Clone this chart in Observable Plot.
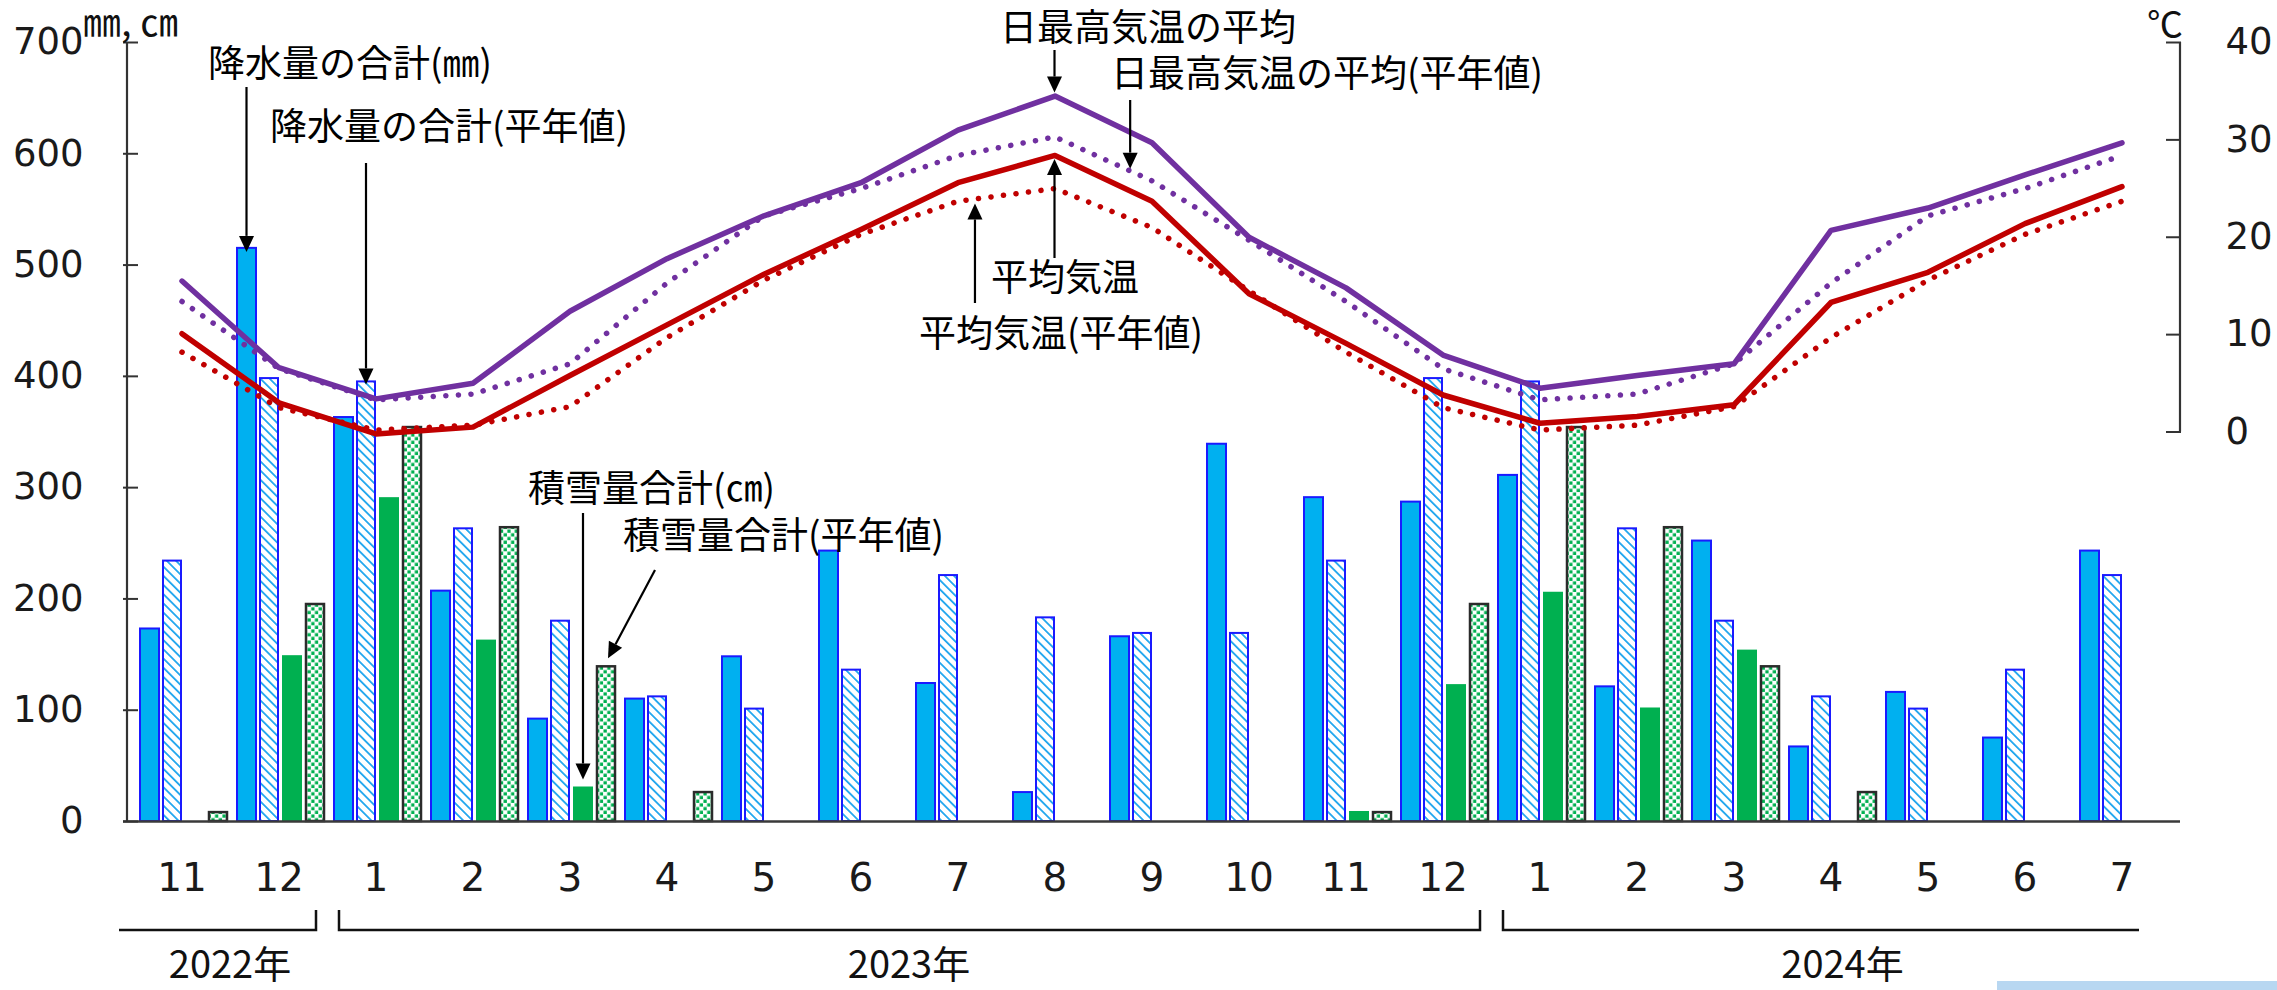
<!DOCTYPE html>
<html><head><meta charset="utf-8">
<script src="https://cdn.jsdelivr.net/npm/d3@7"></script>
<script src="https://cdn.jsdelivr.net/npm/@observablehq/plot@0.6"></script>
<style>
html,body{margin:0;padding:0;background:#fff;}
#wrap{position:relative;width:2277px;height:990px;overflow:hidden;background:#fff;}
#strip{position:absolute;left:1997px;top:981px;width:280px;height:9px;background:#b8d7f1;}
</style></head><body>
<svg width="0" height="0" style="position:absolute">
<defs>
<pattern id="hatch" patternUnits="userSpaceOnUse" width="6.5" height="6.5" patternTransform="rotate(-45)">
<rect width="6.5" height="6.5" fill="#fff"/>
<line x1="0" y1="0" x2="0" y2="6.5" stroke="#1fa6ee" stroke-width="3.6"/>
</pattern>
<pattern id="dots" patternUnits="userSpaceOnUse" width="7.4" height="7.4">
<rect width="7.4" height="7.4" fill="#fff"/>
<rect x="0.4" y="0.4" width="3.3" height="3.3" fill="#00b050"/>
<rect x="4.1" y="4.1" width="3.3" height="3.3" fill="#00b050"/>
</pattern>
</defs></svg>
<div id="wrap"><div id="strip"></div></div>
<script>
// ---- data ----
const months = ["2022-11","2022-12","2023-01","2023-02","2023-03","2023-04","2023-05","2023-06","2023-07","2023-08","2023-09","2023-10","2023-11","2023-12","2024-01","2024-02","2024-03","2024-04","2024-05","2024-06","2024-07"];
const monthLabels = ["11","12","1","2","3","4","5","6","7","8","9","10","11","12","1","2","3","4","5","6","7"];
const precip =       [173, 515, 363, 207, 92, 110, 148, 243, 124, 26, 166, 339, 291, 287, 311, 121, 252, 67, 116, 75, 243];
const precipNormal = [234, 398, 395, 263, 180, 112, 101, 136, 221, 183, 169, 169, 234, 398, 395, 263, 180, 112, 101, 136, 221];
const snow =         [null, 149, 291, 163, 31, null, null, null, null, null, null, null, 9, 123, 206, 102, 154, null, null, null, null];
const snowNormal =   [8, 195, 354, 264, 139, 26, null, null, null, null, null, null, 8, 195, 354, 264, 139, 26, null, null, null];
const tmax =         [15.5, 6.6, 3.4, 5.0, 12.4, 17.8, 22.2, 25.6, 31.0, 34.5, 29.7, 20.0, 14.8, 7.9, 4.5, 5.8, 7.0, 20.7, 23.0, 26.4, 29.7];
const tmaxNormal =   [13.4, 6.5, 3.3, 3.9, 7.0, 15.3, 22.2, 25.0, 28.4, 30.3, 25.8, 19.7, 13.4, 6.5, 3.3, 3.9, 7.0, 15.3, 22.2, 25.0, 28.4];
const tmean =        [10.1, 3.0, -0.2, 0.5, 5.8, 11.0, 16.2, 20.8, 25.6, 28.4, 23.7, 14.2, 9.1, 3.8, 0.9, 1.6, 2.8, 13.3, 16.4, 21.4, 25.2];
const tmeanNormal =  [8.2, 2.5, 0.2, 0.7, 2.6, 9.7, 15.6, 20.3, 23.7, 25.0, 21.0, 14.5, 8.2, 2.5, 0.2, 0.7, 2.6, 9.7, 15.6, 20.3, 23.7];
const leftTicks = [0, 100, 200, 300, 400, 500, 600, 700];
const tempTicks = [0, 10, 20, 30, 40];
const years = [
  {label: "2022年", first: "2022-11", last: "2022-12"},
  {label: "2023年", first: "2023-01", last: "2023-12"},
  {label: "2024年", first: "2024-01", last: "2024-07"}
];

// temperature axis (right) shares the left y scale: 0..40 ℃ -> 350..700
const toV = t => 350 + 8.75 * t;

const rows = months.map((m, i) => ({
  m, label: monthLabels[i],
  precip: precip[i], precipNormal: precipNormal[i],
  snow: snow[i], snowNormal: snowNormal[i],
  tmax: toV(tmax[i]), tmaxNormal: toV(tmaxNormal[i]),
  tmean: toV(tmean[i]), tmeanNormal: toV(tmeanNormal[i])
}));
const labelOf = new Map(months.map((m, i) => [m, monthLabels[i]]));

// bar slots inside each month band (px from band start / end)
const slot = {
  precip: [7, 71], precipNormal: [30, 49], snow: [52, 25], snowNormal: [76, 3]
};

const numFont = "'DejaVu Sans', sans-serif";
const jpFont = "'Noto Sans CJK JP', 'Noto Sans', sans-serif";

const chart = Plot.plot({
  width: 2277, height: 990,
  marginLeft: 123, marginRight: 97, marginTop: 42, marginBottom: 169,
  x: {type: "band", domain: months, padding: 0, axis: null, label: null},
  y: {domain: [0, 700], axis: null, label: null},
  style: {background: "#fff", overflow: "visible"},
  marks: [
    Plot.barY(rows.filter(d => d.precip != null), {x: "m", y: "precip", insetLeft: slot.precip[0], insetRight: slot.precip[1], fill: "#00b0f0", stroke: "#1a1aff", strokeWidth: 2}),
    Plot.barY(rows.filter(d => d.precipNormal != null), {x: "m", y: "precipNormal", insetLeft: slot.precipNormal[0], insetRight: slot.precipNormal[1], fill: "url(#hatch)", stroke: "#1a1aff", strokeWidth: 2}),
    Plot.barY(rows.filter(d => d.snow != null), {x: "m", y: "snow", insetLeft: slot.snow[0], insetRight: slot.snow[1], fill: "#00b050"}),
    Plot.barY(rows.filter(d => d.snowNormal != null), {x: "m", y: "snowNormal", insetLeft: slot.snowNormal[0], insetRight: slot.snowNormal[1], fill: "url(#dots)", stroke: "#2b2b2b", strokeWidth: 2.5}),
    Plot.ruleY([0], {stroke: "#3a3a3a", strokeWidth: 2.5}),
    Plot.line(rows, {x: "m", y: "tmaxNormal", stroke: "#7030a0", strokeWidth: 5.5, strokeDasharray: "0.1 12.5", strokeLinecap: "round"}),
    Plot.line(rows, {x: "m", y: "tmeanNormal", stroke: "#c00000", strokeWidth: 5.5, strokeDasharray: "0.1 12.5", strokeLinecap: "round"}),
    Plot.line(rows, {x: "m", y: "tmax", stroke: "#7030a0", strokeWidth: 5.5}),
    Plot.line(rows, {x: "m", y: "tmean", stroke: "#c00000", strokeWidth: 5.5}),
    Plot.axisX({tickSize: 0, tickPadding: 42, tickFormat: m => labelOf.get(m), label: null, fontSize: 39, fontFamily: numFont, fill: "#1a1a1a"}),
    Plot.axisY({anchor: "left", ticks: leftTicks, tickSize: -15, tickPadding: 55, label: null, tickFormat: d => String(d), fontSize: 37, fontFamily: numFont, fill: "#1a1a1a", stroke: "#333", strokeWidth: 2}),
    Plot.axisY({anchor: "right", ticks: tempTicks.map(toV), tickSize: -15, tickPadding: 60, label: null, tickFormat: v => String(Math.round((v - 350) / 8.75)), fontSize: 37, fontFamily: numFont, fill: "#1a1a1a", stroke: "#333", strokeWidth: 2, textAnchor: "start"})
  ]
});
document.getElementById("wrap").prepend(chart);

// ---- decorations placed with the plot's own scales ----
const xs = chart.scale("x"), ys = chart.scale("y");
const bw = xs.bandwidth;
const bStart = m => xs.apply(m);
const bCenter = m => xs.apply(m) + bw / 2;
const py = v => ys.apply(v);
const svg = d3.select(chart);
const g = svg.append("g").attr("text-anchor", "start");

const x0 = xs.range[0], x1 = xs.range[1];
// axis lines
g.append("line").attr("x1", x0 + 4).attr("x2", x0 + 4).attr("y1", py(700)).attr("y2", py(0)).attr("stroke", "#333").attr("stroke-width", 2.2);
g.append("line").attr("x1", x1).attr("x2", x1).attr("y1", py(toV(40))).attr("y2", py(toV(0))).attr("stroke", "#333").attr("stroke-width", 2.2);
// unit labels
g.append("text").attr("x", 83).attr("y", 36).attr("text-anchor", "start").attr("font-family", jpFont).attr("font-size", 38).attr("fill", "#111").text("㎜, ㎝");
g.append("text").attr("x", x1 + 3).attr("y", 28).attr("text-anchor", "end").attr("dominant-baseline", "middle").attr("font-family", jpFont).attr("font-size", 36).attr("fill", "#111").text("℃");

// year brackets
const bracketY = 930, tickTop = 910;
years.forEach((yr, i) => {
  const left = i === 0 ? bStart(yr.first) - 14 : bStart(yr.first) + 12;
  const right = i === years.length - 1 ? bStart(yr.last) + bw - 31 : bStart(yr.last) + bw - 11;
  let d = "";
  if (i > 0) d += `M${left},${tickTop}L${left},${bracketY}`; else d += `M${left},${bracketY}`;
  d += `L${right},${bracketY}`;
  if (i < years.length - 1) d += `L${right},${tickTop}`;
  g.append("path").attr("d", d).attr("fill", "none").attr("stroke", "#111").attr("stroke-width", 2.5);
  const cx = (bCenter(yr.first) + bCenter(yr.last)) / 2 + (i === 2 ? 12 : 0);
  g.append("text").attr("x", cx).attr("y", 968).attr("text-anchor", "middle").attr("dominant-baseline", "middle")
    .attr("font-family", jpFont).attr("font-size", 38).attr("fill", "#111").text(yr.label);
});

// annotation arrows
function arrow(xa, ya, xb, yb) {
  const ang = Math.atan2(yb - ya, xb - xa);
  const L = 16, W = 7.5;
  const bx = xb - L * Math.cos(ang), by = yb - L * Math.sin(ang);
  const nx = -Math.sin(ang), ny = Math.cos(ang);
  g.append("line").attr("x1", xa).attr("y1", ya).attr("x2", bx).attr("y2", by).attr("stroke", "#000").attr("stroke-width", 2.2);
  g.append("path").attr("d", `M${xb},${yb}L${bx + W * nx},${by + W * ny}L${bx - W * nx},${by - W * ny}Z`).attr("fill", "#000");
}
const rowOf = m => rows.find(r => r.m === m);
const barTip = (m, key) => [bStart(m) + (slot[key][0] + bw - slot[key][1]) / 2, py(rowOf(m)[key])];
function lineAt(key, x) {
  const pts = rows.map(r => [bCenter(r.m), py(r[key])]);
  for (let i = 0; i < pts.length - 1; i++) {
    if (x >= pts[i][0] && x <= pts[i + 1][0]) {
      const f = (x - pts[i][0]) / (pts[i + 1][0] - pts[i][0]);
      return pts[i][1] + f * (pts[i + 1][1] - pts[i][1]);
    }
  }
  return pts[pts.length - 1][1];
}
const notes = [
  {text: "降水量の合計(㎜)", tx: 208, ty: 67, tail: t => [t[0], 87], tip: () => { const t = barTip("2022-12", "precip"); return [t[0], t[1] + 4]; }},
  {text: "降水量の合計(平年値)", tx: 270, ty: 130, tail: t => [t[0], 163], tip: () => { const t = barTip("2023-01", "precipNormal"); return [t[0], t[1] + 3]; }},
  {text: "日最高気温の平均", tx: 1000, ty: 31, tail: t => [t[0], 50], tip: () => [bCenter("2023-08"), py(rowOf("2023-08").tmax) - 3]},
  {text: "日最高気温の平均(平年値)", tx: 1111, ty: 77, tail: t => [t[0], 100], tip: () => { const x = bCenter("2023-08") + 0.78 * xs.step; return [x, lineAt("tmaxNormal", x) - 2]; }},
  {text: "平均気温", tx: 991, ty: 281, tail: t => [t[0], 258], tip: () => [bCenter("2023-08"), py(rowOf("2023-08").tmean) + 4]},
  {text: "平均気温(平年値)", tx: 919, ty: 337, tail: t => [t[0], 303], tip: () => { const x = bCenter("2023-07") + 0.18 * xs.step; return [x, lineAt("tmeanNormal", x) + 5]; }},
  {text: "積雪量合計(㎝)", tx: 528, ty: 492, tail: t => [t[0], 513], tip: () => { const t = barTip("2023-03", "snow"); return [t[0], t[1] - 7]; }},
  {text: "積雪量合計(平年値)", tx: 623, ty: 539, tail: t => [t[0] + 47, 570], tip: () => { const t = barTip("2023-03", "snowNormal"); return [t[0] + 2, t[1] - 8]; }}
];
notes.forEach(n => {
  const tip = n.tip();
  const tail = n.tail(tip);
  arrow(tail[0], tail[1], tip[0], tip[1]);
  g.append("text").attr("x", n.tx).attr("y", n.ty).attr("text-anchor", "start").attr("dominant-baseline", "middle")
    .attr("font-family", jpFont).attr("font-size", 37).attr("fill", "#000").text(n.text);
});
</script>
</body></html>
